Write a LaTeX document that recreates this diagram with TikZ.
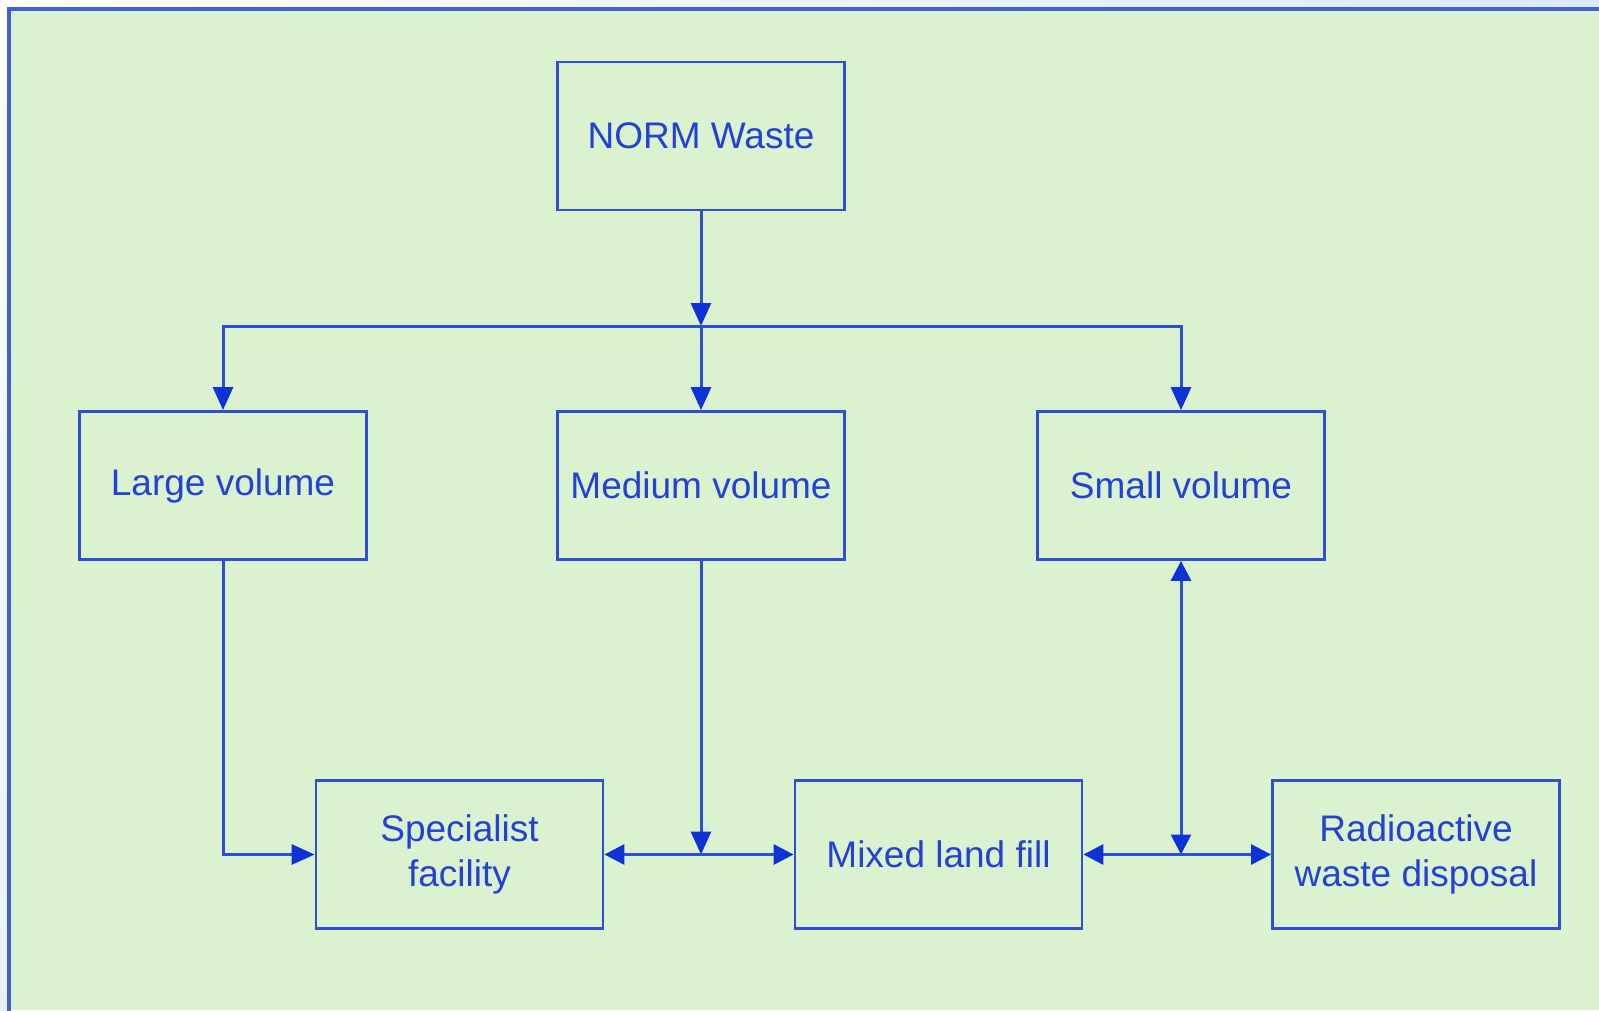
\documentclass[tikz,border=0pt]{standalone}
\usepackage{fontspec}
\setmainfont{Liberation Sans}
\usetikzlibrary{arrows.meta}
\definecolor{panel}{RGB}{219,242,209}
\definecolor{ink}{RGB}{48,80,212}
\definecolor{tipink}{RGB}{14,50,214}
\definecolor{textink}{RGB}{34,66,214}
\definecolor{frameblue}{RGB}{62,96,212}
\definecolor{sky}{RGB}{220,234,255}

\begin{document}
\begin{tikzpicture}[x=1pt,y=-1pt,
  box/.style={draw=ink, line width=2.8pt, minimum width=287pt, minimum height=148pt,
    inner sep=0pt, align=center, text=textink, font=\fontsize{37}{45}\selectfont},
  link/.style={draw=ink, line width=3pt},
  tipend/.style={-{Triangle[length=23pt,width=20pt,color=tipink]}},
  tipboth/.style={{Triangle[length=20pt,width=20pt,color=tipink]}-{Triangle[length=20pt,width=20pt,color=tipink]}}
]
% page and panel
\useasboundingbox (0,0) rectangle (1599,1010);
\fill[white] (0,0) rectangle (1599,1010);
\shade[left color=white, right color=sky] (0,0) rectangle (1599,9);
\shade[top color=white, bottom color=sky!70] (0,0) rectangle (9,1010);
\fill[panel] (9,9) rectangle (1599,1010);
\draw[frameblue, line width=4pt] (9,1012) -- (9,9) -- (1601,9);

% boxes
\node[box] (norm)   at (701,136)    {NORM Waste};
\node[box] (large)  at (223,485.5)  {Large volume};
\node[box] (medium) at (701,485.5)  {Medium volume};
\node[box] (small)  at (1181,485.5) {Small volume};
\node[box] (spec)   at (459.5,854.5){Specialist\\facility};
\node[box] (mixed)  at (938.5,854.5){Mixed land fill};
\node[box] (radio)  at (1416,854.5) {Radioactive\\waste disposal};

% split below the top box
\coordinate (split) at (701,326);
\draw[link,tipend] (norm) -- (split);
\draw[link,tipend] (split) -| (large);
\draw[link,tipend] (split) -- (medium);
\draw[link,tipend] (split) -| (small);

% routes to the disposal options
\coordinate (mjoin) at (medium |- spec);
\coordinate (sjoin) at (small |- mixed);
\draw[link,tipend] (large) |- (spec);
\draw[link,tipend] (medium) -- (mjoin);
\draw[link,tipboth] (spec) -- (mixed);
\draw[link,tipboth] (small) -- (sjoin);
\draw[link,tipboth] (mixed) -- (radio);
\end{tikzpicture}
\end{document}
